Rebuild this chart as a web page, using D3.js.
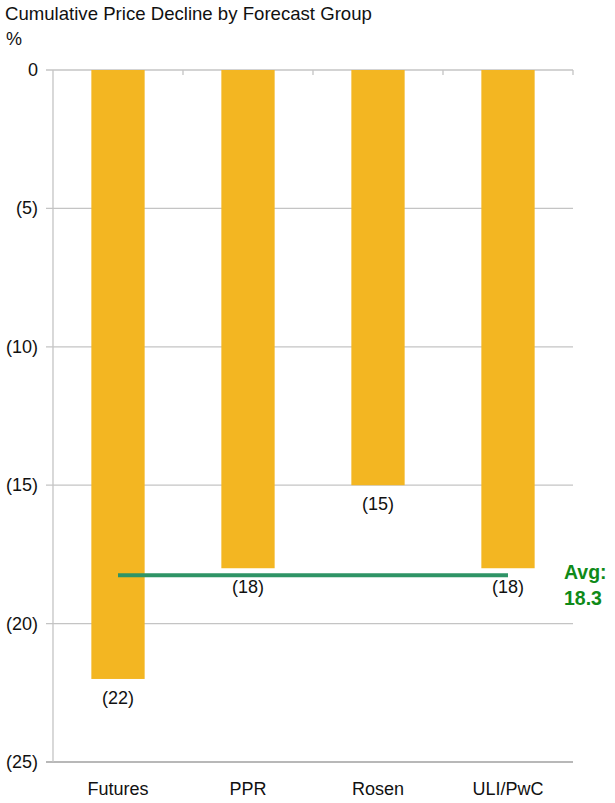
<!DOCTYPE html>
<html>
<head>
<meta charset="utf-8">
<script src="https://cdn.jsdelivr.net/npm/d3@7"></script>
<style>
  body { margin: 0; background: #fff; }
  text { font-family: "Liberation Sans", Arial, sans-serif; fill: #111; }
</style>
</head>
<body>
<svg id="chart" width="615" height="803"></svg>
<script>
const categories = ["Futures", "PPR", "Rosen", "ULI/PwC"];
const declines = [22, 18, 15, 18];
const yTicks = [0, 5, 10, 15, 20, 25];
const avgValue = 18.25;
const avgLabel = ["Avg:", "18.3"];

const svg = d3.select("#chart");
const plotLeft = 53, plotRight = 573, plotTop = 70, plotBottom = 762;

const x = d3.scaleBand().domain(categories).range([plotLeft, plotRight]).paddingInner(0.59).paddingOuter(0.295);
const y = d3.scaleLinear().domain([0, 25]).range([plotTop, plotBottom]);

svg.append("text").attr("x", 5).attr("y", 20).attr("font-size", 18.6).text("Cumulative Price Decline by Forecast Group");
svg.append("text").attr("x", 6).attr("y", 45).attr("font-size", 18).text("%");

// gridlines
svg.append("g").selectAll("line").data(yTicks).enter().append("line")
    .attr("x1", plotLeft - 7).attr("x2", plotRight)
    .attr("y1", d => y(d)).attr("y2", d => y(d))
    .attr("stroke", d => d === 25 ? "#a0a0a0" : "#c4c4c4").attr("stroke-width", 1.3);

// left axis
svg.append("line").attr("x1", plotLeft).attr("x2", plotLeft).attr("y1", plotTop).attr("y2", plotBottom)
    .attr("stroke", "#c4c4c4").attr("stroke-width", 1.3);

// category boundary ticks at the zero line
const bounds = categories.map((c, i) => plotLeft + (i + 1) * (plotRight - plotLeft) / categories.length);
svg.append("g").selectAll("line").data(bounds).enter().append("line")
    .attr("x1", d => d).attr("x2", d => d).attr("y1", plotTop).attr("y2", plotTop + 5)
    .attr("stroke", "#c4c4c4").attr("stroke-width", 1.3);

svg.append("g").selectAll("text").data(yTicks).enter().append("text")
    .attr("x", 38).attr("y", d => y(d) + 6).attr("text-anchor", "end").attr("font-size", 18)
    .text(d => d === 0 ? "0" : "(" + d + ")");

svg.append("g").selectAll("rect").data(declines).enter().append("rect")
    .attr("x", (d, i) => x(categories[i]))
    .attr("y", y(0))
    .attr("width", x.bandwidth())
    .attr("height", d => y(d) - y(0))
    .attr("fill", "#f3b622");

svg.append("g").selectAll("text").data(declines).enter().append("text")
    .attr("x", (d, i) => x(categories[i]) + x.bandwidth() / 2)
    .attr("y", d => y(d) + 25)
    .attr("text-anchor", "middle").attr("font-size", 18)
    .text(d => "(" + d + ")");

svg.append("g").selectAll("text").data(categories).enter().append("text")
    .attr("x", d => x(d) + x.bandwidth() / 2)
    .attr("y", 795).attr("text-anchor", "middle").attr("font-size", 18)
    .text(d => d);

// average line
svg.append("line")
    .attr("x1", x(categories[0]) + x.bandwidth() / 2)
    .attr("x2", x(categories[categories.length - 1]) + x.bandwidth() / 2)
    .attr("y1", y(avgValue)).attr("y2", y(avgValue))
    .attr("stroke", "#2e9466").attr("stroke-width", 4);

svg.append("g").selectAll("text").data(avgLabel).enter().append("text")
    .attr("x", 564).attr("y", (d, i) => 579 + i * 26)
    .attr("font-size", 19.5).attr("font-weight", "bold")
    .style("fill", "#0f8a18")
    .text(d => d);
</script>
</body>
</html>
